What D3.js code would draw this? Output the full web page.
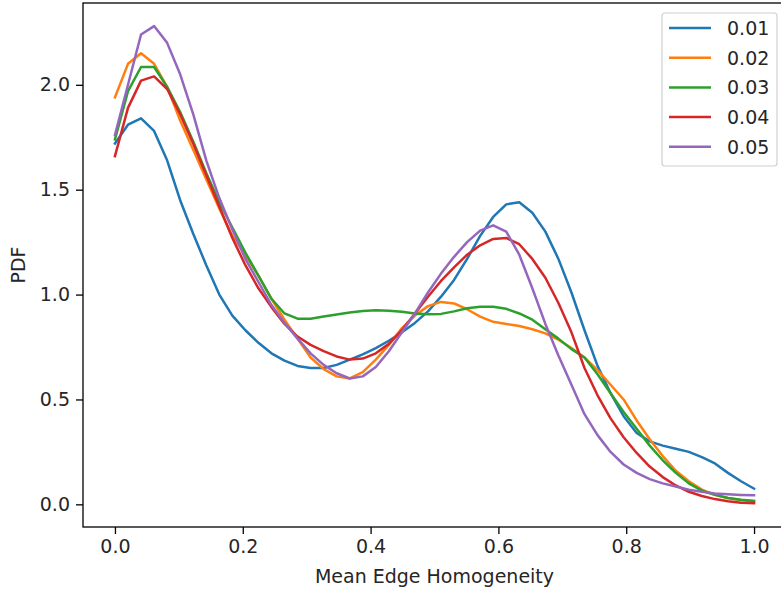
<!DOCTYPE html>
<html>
<head>
<meta charset="utf-8">
<script src="https://cdn.jsdelivr.net/npm/d3@7"></script>
<style>
  body { margin: 0; background: #fff; }
  svg { display: block; font-family: "DejaVu Sans", sans-serif; }
</style>
</head>
<body>
<div id="chart"></div>
<script>
// series labels and colours (matplotlib tab10)
var labels = ["0.01", "0.02", "0.03", "0.04", "0.05"];
var colors = ["#1f77b4", "#ff7f0e", "#2ca02c", "#d62728", "#9467bd"];

var xTicks = [0, 0.2, 0.4, 0.6, 0.8, 1.0];
var yTicks = [0, 0.5, 1.0, 1.5, 2.0];

// pdf values, 50 evenly spaced points on [0, 1]
var s001 = [1.72, 1.81, 1.84, 1.78, 1.64, 1.45, 1.29, 1.14, 1.00, 0.90,
            0.83, 0.77, 0.72, 0.685, 0.66, 0.65, 0.65, 0.665, 0.69, 0.715,
            0.745, 0.78, 0.82, 0.865, 0.92, 0.99, 1.07, 1.17, 1.28, 1.37,
            1.43, 1.44, 1.39, 1.30, 1.17, 1.01, 0.83, 0.66, 0.53, 0.42,
            0.34, 0.30, 0.28, 0.265, 0.25, 0.225, 0.195, 0.15, 0.11, 0.075];
var s002 = [1.94, 2.10, 2.15, 2.10, 1.99, 1.83, 1.69, 1.55, 1.41, 1.28,
            1.19, 1.09, 0.98, 0.88, 0.79, 0.70, 0.645, 0.61, 0.60, 0.63,
            0.69, 0.76, 0.84, 0.90, 0.945, 0.965, 0.958, 0.93, 0.895, 0.87,
            0.86, 0.85, 0.835, 0.815, 0.785, 0.745, 0.70, 0.64, 0.57, 0.50,
            0.40, 0.31, 0.23, 0.16, 0.11, 0.07, 0.045, 0.03, 0.02, 0.015];
var s003 = [1.74, 1.97, 2.085, 2.085, 1.99, 1.87, 1.73, 1.58, 1.44, 1.32,
            1.20, 1.09, 0.98, 0.91, 0.885, 0.885, 0.895, 0.905, 0.915, 0.922,
            0.925, 0.923, 0.918, 0.91, 0.906, 0.908, 0.92, 0.935, 0.942, 0.942,
            0.932, 0.91, 0.88, 0.835, 0.79, 0.74, 0.70, 0.62, 0.53, 0.44,
            0.36, 0.28, 0.21, 0.15, 0.10, 0.065, 0.045, 0.03, 0.022, 0.017];
var s004 = [1.66, 1.89, 2.02, 2.04, 1.98, 1.86, 1.72, 1.57, 1.42, 1.27,
            1.14, 1.03, 0.94, 0.86, 0.80, 0.76, 0.73, 0.705, 0.69, 0.695,
            0.72, 0.765, 0.83, 0.91, 0.99, 1.065, 1.13, 1.19, 1.235, 1.265,
            1.27, 1.24, 1.17, 1.08, 0.96, 0.82, 0.65, 0.52, 0.41, 0.32,
            0.245, 0.18, 0.13, 0.09, 0.06, 0.04, 0.025, 0.015, 0.008, 0.005];
var s005 = [1.76, 2.00, 2.24, 2.28, 2.20, 2.05, 1.86, 1.64, 1.46, 1.31,
            1.17, 1.06, 0.95, 0.865, 0.79, 0.72, 0.665, 0.625, 0.60, 0.61,
            0.655, 0.73, 0.82, 0.91, 1.01, 1.10, 1.18, 1.25, 1.305, 1.33,
            1.30, 1.19, 1.03, 0.86, 0.71, 0.57, 0.43, 0.33, 0.25, 0.19,
            0.15, 0.12, 0.10, 0.085, 0.07, 0.06, 0.052, 0.048, 0.045, 0.043];

var series = [s001, s002, s003, s004, s005];
var xs = d3.range(50).map(function(i) { return i / 49; });

var width = 781, height = 593;
var mLeft = 83, mRight = 786, mTop = 3, mBottom = 527;
var fontSize = "19px";

var svg = d3.select("#chart").append("svg")
    .attr("width", width)
    .attr("height", height);

var x = d3.scaleLinear().domain([-0.05, 1.05]).range([mLeft, mRight]);
var y = d3.scaleLinear().domain([-0.108, 2.39]).range([mBottom, mTop]);

var line = d3.line()
    .x(function(d, i) { return x(xs[i]); })
    .y(function(d) { return y(d); });

// lines
svg.append("g")
  .selectAll("path")
  .data(series)
  .enter().append("path")
    .attr("d", line)
    .attr("fill", "none")
    .attr("stroke", function(d, i) { return colors[i]; })
    .attr("stroke-width", 2.5)
    .attr("stroke-linejoin", "round")
    .attr("stroke-linecap", "square");

// axes
var xAxis = d3.axisBottom(x).tickValues(xTicks)
    .tickFormat(d3.format(".1f")).tickSize(7).tickPadding(6);
var yAxis = d3.axisLeft(y).tickValues(yTicks)
    .tickFormat(d3.format(".1f")).tickSize(7).tickPadding(6);

var gx = svg.append("g").attr("transform", "translate(0," + mBottom + ")").call(xAxis);
var gy = svg.append("g").attr("transform", "translate(" + mLeft + ",0)").call(yAxis);
[gx, gy].forEach(function(g) {
  g.select(".domain").remove();
  g.selectAll(".tick line").attr("stroke", "#000").attr("stroke-width", 1.3);
  g.selectAll(".tick text").attr("fill", "#262626")
    .style("font-size", fontSize).style("font-family", "DejaVu Sans");
});

// spines
svg.append("rect")
    .attr("x", mLeft).attr("y", mTop)
    .attr("width", mRight - mLeft).attr("height", mBottom - mTop)
    .attr("fill", "none").attr("stroke", "#000").attr("stroke-width", 1.3);

// axis labels
svg.append("text")
    .attr("x", (x(0) + x(1)) / 2).attr("y", 583)
    .attr("text-anchor", "middle")
    .attr("fill", "#262626")
    .style("font-size", fontSize)
    .text("Mean Edge Homogeneity");

svg.append("text")
    .attr("transform", "translate(25," + ((mTop + mBottom) / 2) + ") rotate(-90)")
    .attr("text-anchor", "middle")
    .attr("fill", "#262626")
    .style("font-size", fontSize)
    .text("PDF");

// legend
var lg = svg.append("g");
lg.append("rect")
    .attr("x", 662).attr("y", 13)
    .attr("width", 115).attr("height", 153)
    .attr("rx", 3)
    .attr("fill", "#fff").attr("fill-opacity", 0.8)
    .attr("stroke", "#d0d0d0").attr("stroke-width", 1.2);

var rows = lg.selectAll("g.row")
  .data(labels)
  .enter().append("g")
    .attr("class", "row")
    .attr("transform", function(d, i) { return "translate(0," + (28 + i * 29.7) + ")"; });
rows.append("line")
    .attr("x1", 669).attr("x2", 711)
    .attr("stroke", function(d, i) { return colors[i]; })
    .attr("stroke-width", 2.5);
rows.append("text")
    .attr("x", 727).attr("y", 7)
    .attr("fill", "#262626")
    .style("font-size", fontSize)
    .text(function(d) { return d; });
</script>
</body>
</html>
